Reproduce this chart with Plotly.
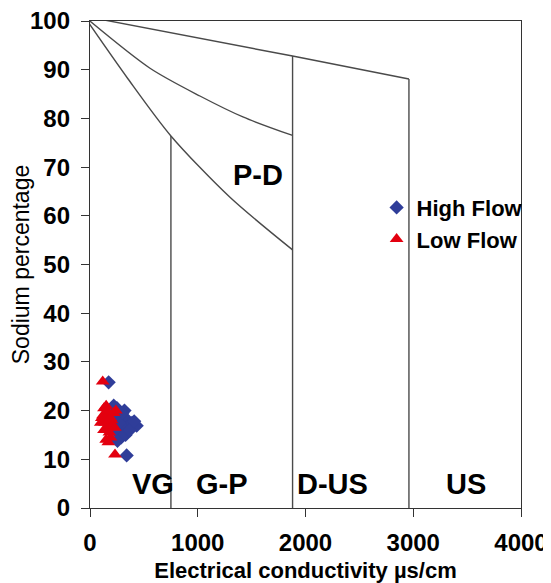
import plotly.graph_objects as go

# Scatter data (EC in µS/cm, Sodium %)
high_flow_ec = [173, 340, 433, 250, 280, 310, 350, 390, 300, 260, 330, 370, 220, 240, 290, 200, 410, 320, 270, 230, 255, 300]
high_flow_na = [25.8, 10.8, 16.9, 20.5, 19.5, 18.5, 18.0, 17.5, 16.5, 15.5, 15.0, 16.0, 21.0, 19.0, 14.5, 17.0, 17.8, 20.0, 17.5, 16.0, 13.8, 19.5]
low_flow_ec = [118, 232, 130, 150, 170, 110, 140, 160, 180, 200, 120, 190, 210, 150, 220, 240, 170, 130, 230, 100, 160, 190]
low_flow_na = [26.0, 11.0, 20.5, 21.0, 19.5, 18.5, 17.5, 16.5, 15.5, 18.0, 19.0, 14.5, 17.0, 14.0, 19.5, 20.0, 13.5, 16.0, 16.5, 17.5, 20.0, 18.5]

# Wilcox class boundary curves
curve1_ec = [-56, 1880, 2960]
curve1_na = [101.0, 92.8, 88.1]
curve2_ec = [-56, 557, 1020, 1419, 1880]
curve2_na = [101.0, 90.3, 84.6, 80.3, 76.5]
curve3_ec = [-56, 350, 751, 1299, 1880]
curve3_na = [101.0, 88.2, 76.4, 63.8, 53.0]
vline_ec = [751, 1880, 2960]
vline_top = [76.4, 92.8, 88.1]

# Class labels
class_labels = ["VG", "G-P", "D-US", "US", "P-D"]
class_ec = [580, 1229, 2254, 3494, 1558]
class_na = [4.9, 4.9, 4.9, 4.9, 68.4]

LINE = "#4a4a4a"
FONT = "Liberation Sans, Arial"
fig = go.Figure()

for xs, ys in [(curve1_ec, curve1_na), (curve2_ec, curve2_na), (curve3_ec, curve3_na)]:
    fig.add_trace(go.Scatter(x=xs, y=ys, mode="lines", line=dict(color=LINE, width=1.4, shape="spline", smoothing=0.8),
                             showlegend=False, hoverinfo="skip", cliponaxis=False))
for xv, top in zip(vline_ec, vline_top):
    fig.add_trace(go.Scatter(x=[xv, xv], y=[0, top], mode="lines", line=dict(color=LINE, width=1.4),
                             showlegend=False, hoverinfo="skip"))

fig.add_trace(go.Scatter(x=high_flow_ec, y=high_flow_na, mode="markers", name="High Flow",
                         marker=dict(symbol="diamond", size=11, color="#2f3d99"), cliponaxis=False))
fig.add_trace(go.Scatter(x=low_flow_ec, y=low_flow_na, mode="markers", name="Low Flow",
                         marker=dict(symbol="triangle-up", size=12, color="#e3000f"), cliponaxis=False))

for t, x, y in zip(class_labels, class_ec, class_na):
    fig.add_annotation(x=x, y=y, text=f"<b>{t}</b>", showarrow=False,
                       font=dict(family=FONT, size=29, color="black"))

# page body has an 8px margin, so the figure is sized/offset to compensate
fig.update_layout(
    width=543, height=575,
    margin=dict(l=82, r=30, t=13, b=75),
    paper_bgcolor="white", plot_bgcolor="white",
    font=dict(family=FONT, color="black"),
    showlegend=True,
    legend=dict(x=0.665, y=0.66, xanchor="left", yanchor="top", bgcolor="rgba(0,0,0,0)",
                font=dict(size=22, family=FONT, color="black", weight="bold"),
                itemwidth=30, tracegroupgap=0),
    xaxis=dict(range=[0, 4000], tickvals=[0, 1000, 2000, 3000, 4000], ticks="outside", ticklen=8,
               tickcolor="#333", showline=True, linecolor="#333", linewidth=1.4, mirror=True,
               showgrid=False, zeroline=False, automargin=False, ticklabeloverflow="allow",
               tickfont=dict(size=24, weight="bold"), ticklabelstandoff=5,
               title=dict(text="<b>Electrical conductivity µs/cm</b>", font=dict(size=22), standoff=12)),
    yaxis=dict(range=[0, 100], tickvals=list(range(0, 101, 10)), ticks="outside", ticklen=8,
               tickcolor="#333", showline=True, linecolor="#333", linewidth=1.4, mirror=True,
               showgrid=False, zeroline=False, automargin=False, ticklabeloverflow="allow",
               tickfont=dict(size=24, weight="bold"), ticklabelstandoff=6,
               title=dict(text="Sodium percentage", font=dict(size=23), standoff=7)),
)

fig.write_html("out.html")
